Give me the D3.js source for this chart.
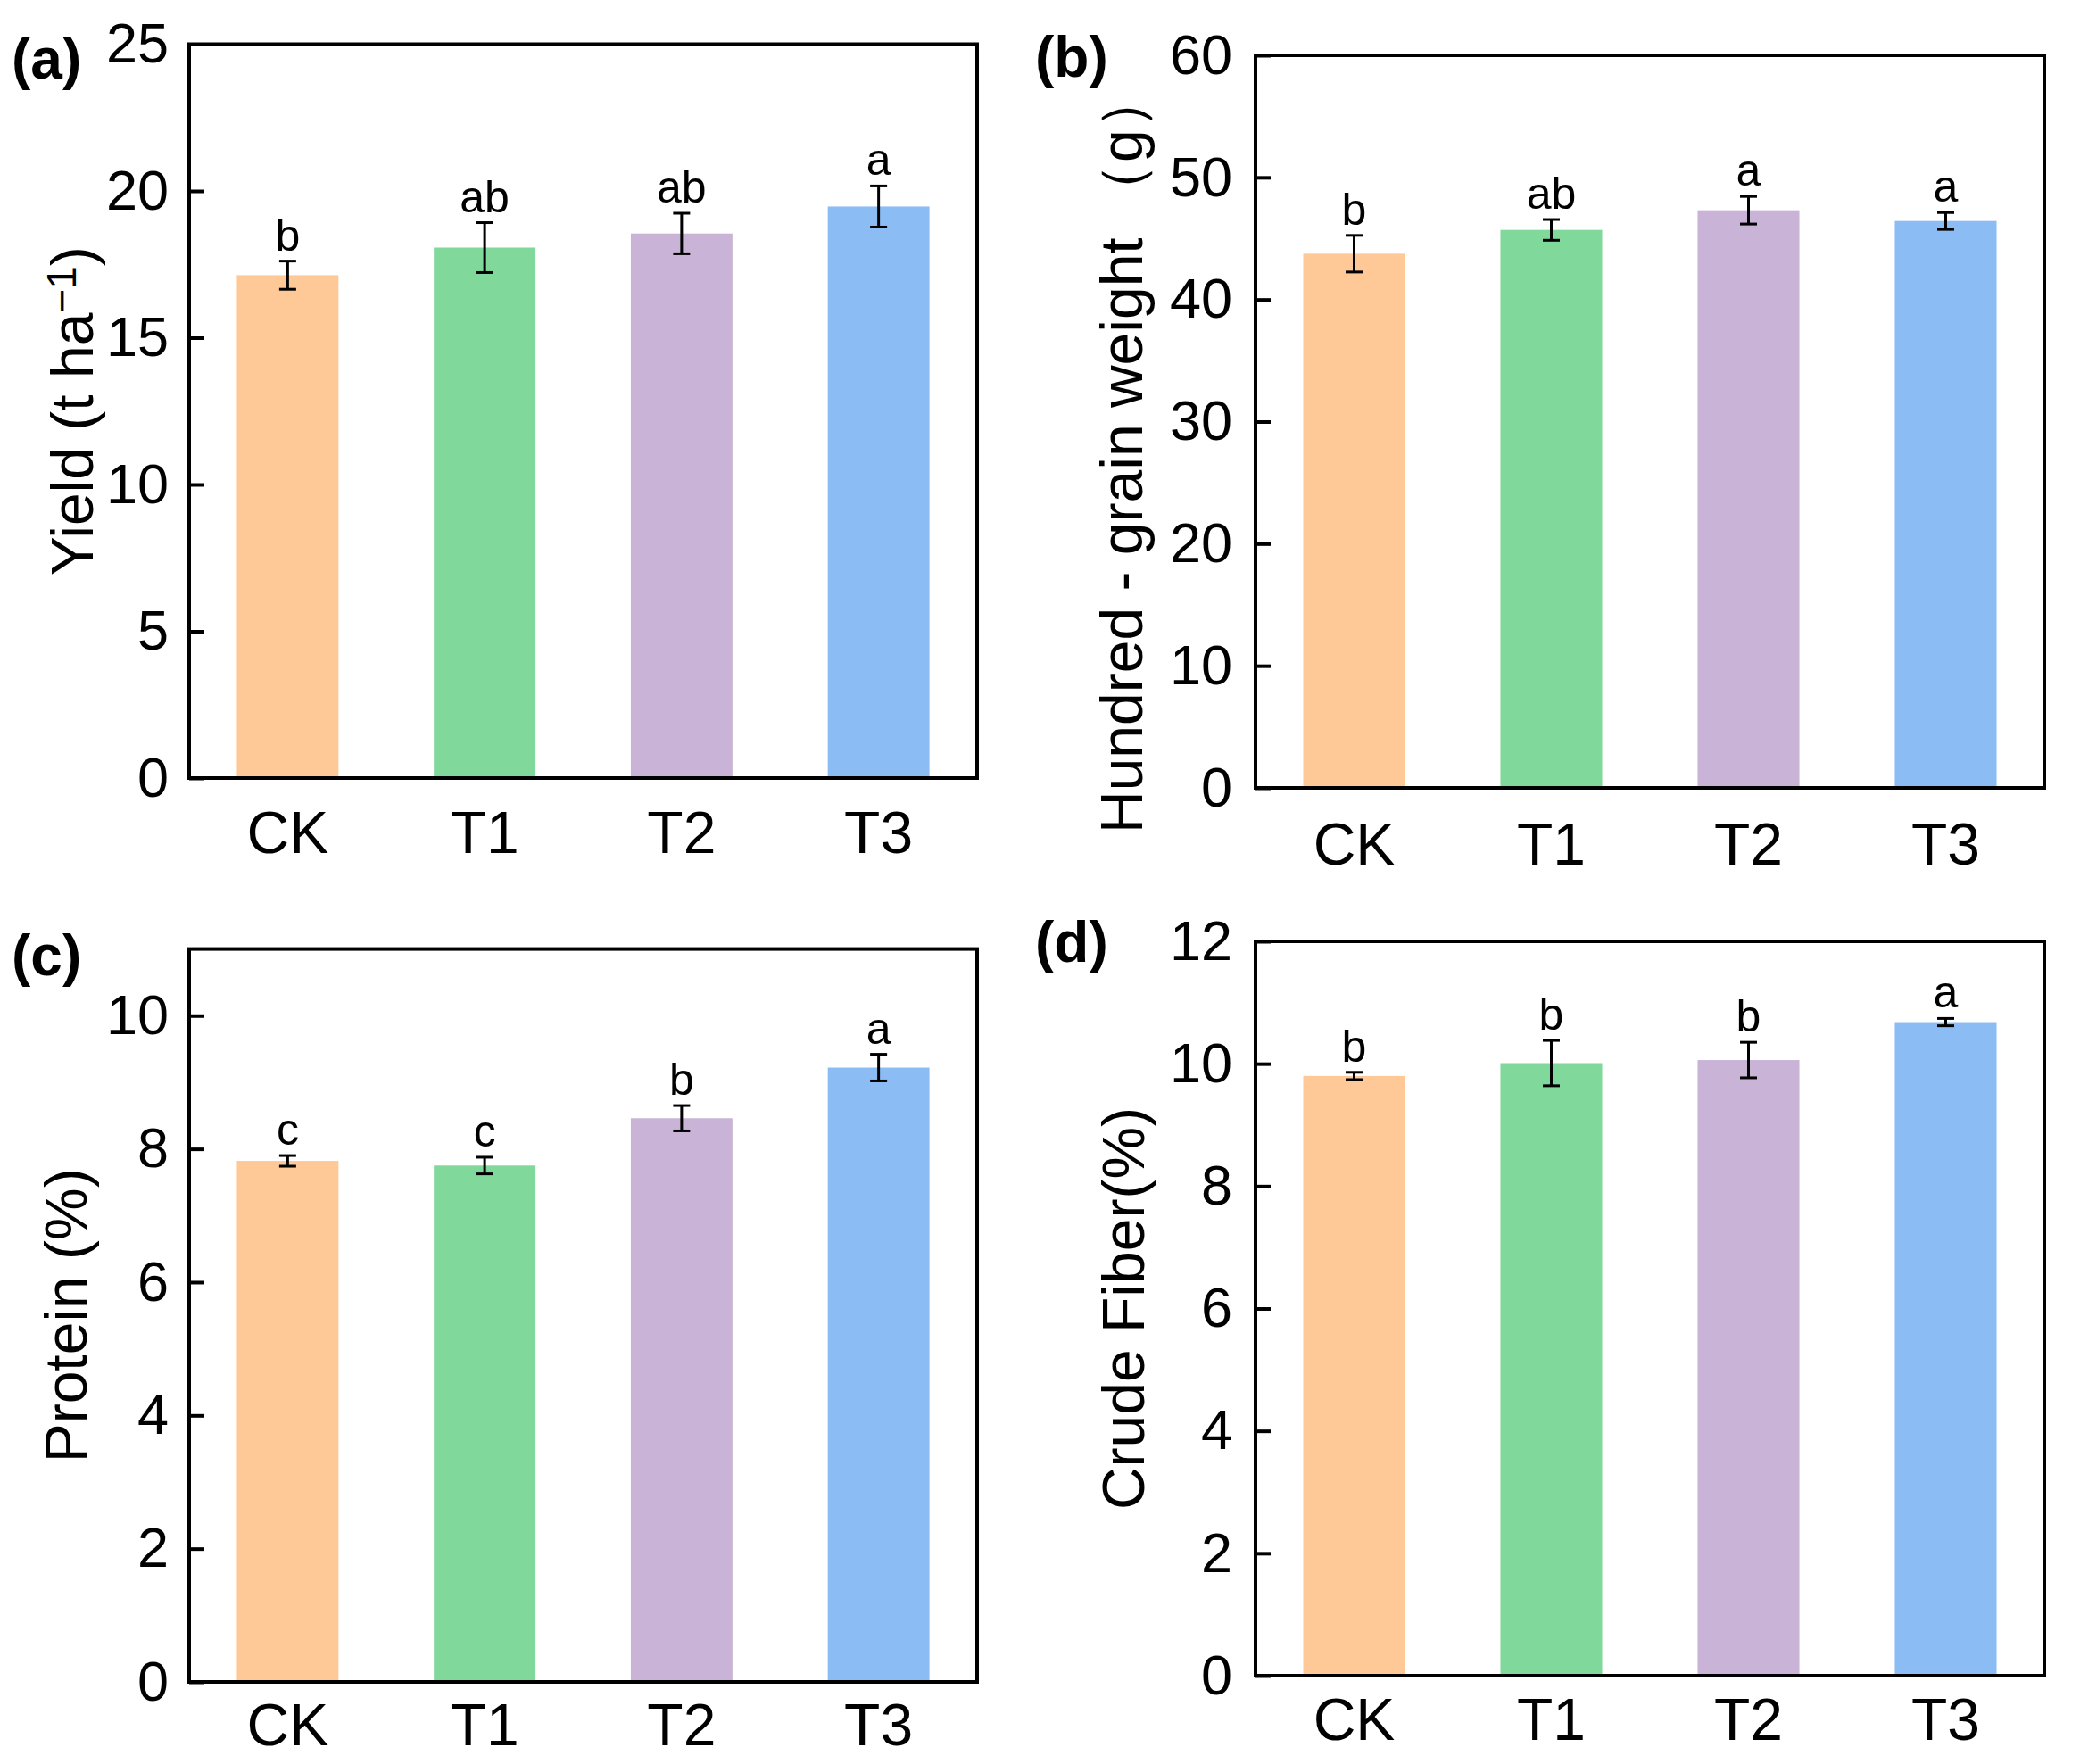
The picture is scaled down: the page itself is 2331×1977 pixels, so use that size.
<!DOCTYPE html>
<html>
<head>
<meta charset="utf-8">
<script src="https://cdn.jsdelivr.net/npm/d3@7"></script>
<style>
  body { margin: 0; background: #fff; }
  text { font-family: "Liberation Sans", Arial, sans-serif; fill: #000; }
</style>
</head>
<body>
<div id="chart"></div>
<script>
// Treatments and bar colours
const categories = ["CK", "T1", "T2", "T3"];
const barColors = ["#fec996", "#80d89a", "#c9b4d7", "#8cbcf4"];

// (a) Yield
const yieldMean = [17.13, 18.07, 18.55, 19.47];
const yieldErr = [0.48, 0.85, 0.69, 0.70];
const yieldSig = ["b", "ab", "ab", "a"];
const yieldTicks = [0, 5, 10, 15, 20, 25];

// (b) Hundred-grain weight
const grainMean = [43.75, 45.70, 47.31, 46.43];
const grainErr = [1.50, 0.85, 1.13, 0.69];
const grainSig = ["b", "ab", "a", "a"];
const grainTicks = [0, 10, 20, 30, 40, 50, 60];

// (c) Protein
const proteinMean = [7.82, 7.75, 8.46, 9.22];
const proteinErr = [0.08, 0.125, 0.19, 0.20];
const proteinSig = ["c", "c", "b", "a"];
const proteinTicks = [0, 2, 4, 6, 8, 10];

// (d) Crude fibre
const fiberMean = [9.80, 10.01, 10.06, 10.68];
const fiberErr = [0.06, 0.37, 0.29, 0.06];
const fiberSig = ["b", "b", "b", "a"];
const fiberTicks = [0, 2, 4, 6, 8, 10, 12];

const width = 2331, height = 1977;

const svg = d3.select("#chart").append("svg")
    .attr("width", width)
    .attr("height", height);

// Panel layout: frame box, y max, label spots
const panels = [
  { tag: "(a)", mean: yieldMean, err: yieldErr, sig: yieldSig, ticks: yieldTicks, ymax: 25,
    box: { l: 212, r: 1095, t: 49.5, b: 872 }, tagPos: [13, 88], pad: 23, catDy: 84,
    title: "yield", titleX: 104, anchor: "middle" },
  { tag: "(b)", mean: grainMean, err: grainErr, sig: grainSig, ticks: grainTicks, ymax: 60,
    box: { l: 1407, r: 2291, t: 62, b: 883 }, tagPos: [1160, 86], pad: 26, catDy: 86,
    title: "Hundred - grain weight （g）", titleX: 1280, anchor: "start", titleY: 934 },
  { tag: "(c)", mean: proteinMean, err: proteinErr, sig: proteinSig, ticks: proteinTicks, ymax: 11,
    box: { l: 212, r: 1095, t: 1063.6, b: 1885 }, tagPos: [13, 1093], pad: 23, catDy: 71,
    title: "Protein (%)", titleX: 97, anchor: "middle" },
  { tag: "(d)", mean: fiberMean, err: fiberErr, sig: fiberSig, ticks: fiberTicks, ymax: 12,
    box: { l: 1407, r: 2291, t: 1055, b: 1878 }, tagPos: [1160, 1078], pad: 26, catDy: 72,
    title: "Crude Fiber(%)", titleX: 1282, anchor: "middle" }
];

panels.forEach(p => {
  const g = svg.append("g");

  const x = d3.scaleBand()
      .domain(categories)
      .range([p.box.l, p.box.r])
      .paddingInner(0.484)
      .paddingOuter(0.242);

  const y = d3.scaleLinear()
      .domain([0, p.ymax])
      .range([p.box.b, p.box.t]);

  const rows = categories.map((c, i) => ({ c, v: p.mean[i], e: p.err[i], s: p.sig[i], col: barColors[i] }));

  // bars
  g.selectAll("rect.bar")
    .data(rows)
    .enter().append("rect")
      .attr("class", "bar")
      .attr("x", d => x(d.c))
      .attr("width", x.bandwidth())
      .attr("y", d => y(d.v))
      .attr("height", d => y(0) - y(d.v))
      .attr("fill", d => d.col);

  // error bars
  const cap = 9.5;
  const eb = g.selectAll("g.err")
    .data(rows)
    .enter().append("g")
      .attr("class", "err")
      .attr("stroke", "#000")
      .attr("stroke-width", 3);
  eb.append("line")
      .attr("x1", d => x(d.c) + x.bandwidth() / 2)
      .attr("x2", d => x(d.c) + x.bandwidth() / 2)
      .attr("y1", d => y(d.v + d.e))
      .attr("y2", d => y(d.v - d.e));
  eb.append("line")
      .attr("x1", d => x(d.c) + x.bandwidth() / 2 - cap)
      .attr("x2", d => x(d.c) + x.bandwidth() / 2 + cap)
      .attr("y1", d => y(d.v + d.e))
      .attr("y2", d => y(d.v + d.e));
  eb.append("line")
      .attr("x1", d => x(d.c) + x.bandwidth() / 2 - cap)
      .attr("x2", d => x(d.c) + x.bandwidth() / 2 + cap)
      .attr("y1", d => y(d.v - d.e))
      .attr("y2", d => y(d.v - d.e));

  // significance letters
  g.selectAll("text.sig")
    .data(rows)
    .enter().append("text")
      .attr("class", "sig")
      .attr("x", d => x(d.c) + x.bandwidth() / 2)
      .attr("y", d => y(d.v + d.e) - 12)
      .attr("text-anchor", "middle")
      .style("font-size", "50px")
      .text(d => d.s);

  // y axis, ticks pointing inward
  const yAxis = g.append("g")
      .attr("transform", `translate(${p.box.l},0)`)
      .call(d3.axisLeft(y).tickValues(p.ticks).tickFormat(d3.format("d"))
        .tickSizeInner(-17).tickSizeOuter(0).tickPadding(p.pad));
  yAxis.select(".domain").remove();
  yAxis.selectAll(".tick line").attr("stroke", "#000").attr("stroke-width", 4);
  yAxis.selectAll(".tick text")
      .style("font-size", "63px")
      .style("font-family", "'Liberation Sans', Arial, sans-serif")
      .attr("fill", "#000");

  // category labels
  g.selectAll("text.cat")
    .data(categories)
    .enter().append("text")
      .attr("class", "cat")
      .attr("x", d => x(d) + x.bandwidth() / 2)
      .attr("y", p.box.b + p.catDy)
      .attr("text-anchor", "middle")
      .style("font-size", "66px")
      .text(d => d);

  // frame
  g.append("rect")
      .attr("x", p.box.l)
      .attr("y", p.box.t)
      .attr("width", p.box.r - p.box.l)
      .attr("height", p.box.b - p.box.t)
      .attr("fill", "none")
      .attr("stroke", "#000")
      .attr("stroke-width", 4);

  // panel tag
  g.append("text")
      .attr("x", p.tagPos[0])
      .attr("y", p.tagPos[1])
      .style("font-size", "64px")
      .style("font-weight", "bold")
      .text(p.tag);

  // y title
  const ty = p.titleY !== undefined ? p.titleY : (p.box.t + p.box.b) / 2;
  const title = g.append("text")
      .attr("transform", `translate(${p.titleX},${ty}) rotate(-90)`)
      .attr("text-anchor", p.anchor)
      .style("font-size", "66px");
  if (p.title === "yield") {
    title.append("tspan").text("Yield (t ha");
    title.append("tspan").attr("dy", "-0.42em").style("font-size", "46px").text("−1");
    title.append("tspan").attr("dy", "0.29em").text(")");
  } else {
    title.text(p.title);
  }
});
</script>
</body>
</html>
